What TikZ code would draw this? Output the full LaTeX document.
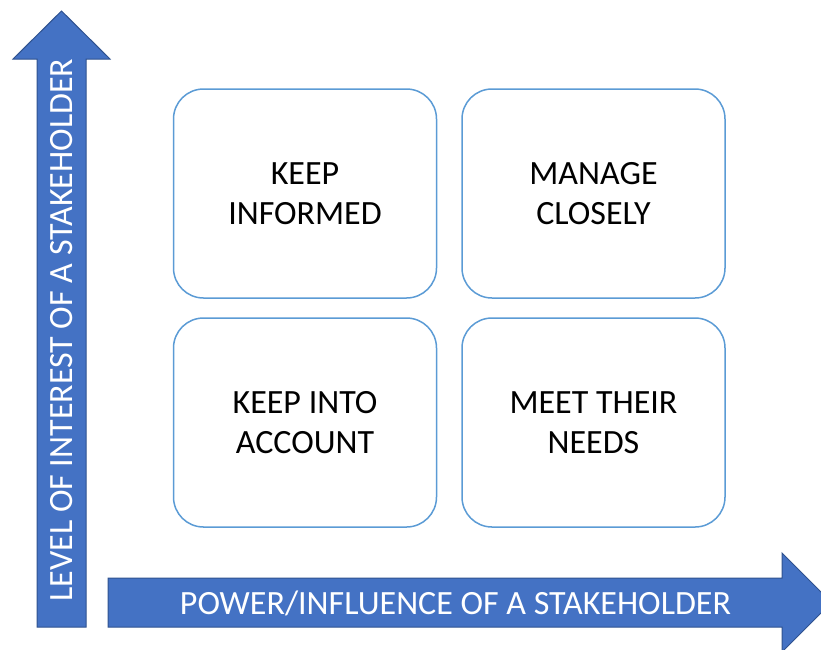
\documentclass[tikz,border=0pt]{standalone}
\usepackage{fontspec}
\setmainfont{Carlito}
\definecolor{arrowfill}{HTML}{4472C4}
\definecolor{arrowline}{HTML}{2F528F}
\definecolor{boxline}{HTML}{5B9BD5}
\begin{document}
\begin{tikzpicture}[x=1pt,y=-1pt,
  quad/.style={draw=boxline,line width=1.5pt,rounded corners=30pt,minimum width=263pt,minimum height=209pt,inner sep=0pt,align=center,font=\fontsize{34}{40}\selectfont,text=black},
  axisarrow/.style={fill=arrowfill,draw=arrowline,line width=1pt},
  axislabel/.style={text=white,font=\fontsize{34}{40}\selectfont,inner sep=0pt,anchor=base}]
\useasboundingbox (0,0) rectangle (821,649);
\begin{scope}
\clip (0,0) rectangle (821,649);
\draw[axisarrow] (37,627) -- (37,59) -- (13,59) -- (61.5,11) -- (110,59) -- (86,59) -- (86,627) -- cycle;
\draw[axisarrow] (108,578) -- (782,578) -- (782,553) -- (831.5,602.5) -- (782,652) -- (782,627) -- (108,627) -- cycle;
\end{scope}
\node[axislabel,rotate=90] (ylab) at (72.5,330) {LEVEL OF INTEREST OF A STAKEHOLDER};
\node[axislabel] (xlab) at (455.5,614) {POWER/INFLUENCE OF A STAKEHOLDER};
\node[quad] (ki) at (305,193.5) {KEEP\\INFORMED};
\node[quad] (mc) at (593.5,193.5) {MANAGE\\CLOSELY};
\node[quad] (ka) at (305,422.5) {KEEP INTO\\ACCOUNT};
\node[quad] (mn) at (593.5,422.5) {MEET THEIR\\NEEDS};
\end{tikzpicture}
\end{document}
